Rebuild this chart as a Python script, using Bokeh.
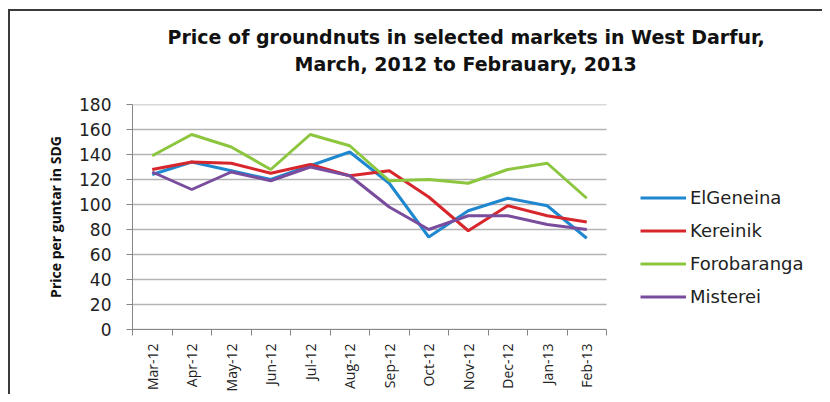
import numpy as np
from bokeh.plotting import figure
from bokeh.models import Range1d, FixedTicker, Title, Legend, LegendItem
from bokeh.embed import file_html
from bokeh.resources import INLINE

months = ["Mar-12", "Apr-12", "May-12", "Jun-12", "Jul-12", "Aug-12",
          "Sep-12", "Oct-12", "Nov-12", "Dec-12", "Jan-13", "Feb-13"]
elgeneina = [124, 134, 127, 120, 131, 142, 117, 74, 95, 105, 99, 73]
kereinik = [128, 134, 133, 125, 132, 123, 127, 106, 79, 99, 91, 86]
forobaranga = [139, 156, 146, 128, 156, 147, 119, 120, 117, 128, 133, 105]
misterei = [126, 112, 126, 119, 130, 123, 98, 80, 91, 91, 84, 80]
y_ticks = [0, 20, 40, 60, 80, 100, 120, 140, 160, 180]
title_lines = ["Price of groundnuts in selected markets in West Darfur,",
               "March, 2012 to Febrauary, 2013"]

series = [("ElGeneina", elgeneina, "#1f87cf"),
          ("Kereinik", kereinik, "#d7262c"),
          ("Forobaranga", forobaranga, "#8cc63f"),
          ("Misterei", misterei, "#7a4c9e")]

FONT = "DejaVu Sans"
W, H = 822, 394
L, T, FW, FH = 132, 104, 474, 225   # plot area of the 12 categories
R = 816                              # frame extended right to hold the legend
n = len(months)
ymax = max(y_ticks)
x_end = n * (R - L) / FW

p = figure(width=W, height=H, output_backend="svg", toolbar_location=None,
           x_range=Range1d(0, x_end), y_range=Range1d(0, ymax),
           min_border_left=L, min_border_right=W - R,
           min_border_top=T, min_border_bottom=H - T - FH)
p.outline_line_color = None
p.background_fill_color = None
p.border_fill_color = None
p.styles = {"box-shadow": "inset 8px 9px 0 0 white, inset 10px 11px 0 0 #3a3a3a"}

# horizontal gridlines limited to the category span
p.xgrid.grid_line_color = None
p.ygrid.grid_line_color = None
p.segment(x0=[0] * len(y_ticks), x1=[n] * len(y_ticks), y0=y_ticks, y1=y_ticks,
          line_color="#b4b4b4", line_width=1.5)

x = np.arange(n) + 0.5
renderers = []
for name, vals, col in series:
    r = p.line(x, vals, line_color=col, line_width=3)
    renderers.append((name, r))

# axes
p.yaxis.ticker = FixedTicker(ticks=y_ticks)
p.yaxis.major_tick_out = 6
p.yaxis.major_tick_in = 0
p.yaxis.minor_tick_line_color = None
p.yaxis.axis_line_color = "#868686"
p.yaxis.major_tick_line_color = "#868686"
p.yaxis.major_label_text_font = FONT
p.yaxis.major_label_text_font_size = "17px"
p.yaxis.major_label_text_color = "#222222"
p.yaxis.major_label_standoff = 15
p.yaxis.axis_label = "Price per guntar in SDG"
p.yaxis.axis_label_text_font = "Open Sans"
p.yaxis.axis_label_text_font_style = "bold"
p.yaxis.axis_label_text_font_size = "14px"
p.yaxis.axis_label_text_color = "#111111"
p.yaxis.axis_label_standoff = 11

p.xaxis.bounds = (0, n)
p.xaxis.ticker = FixedTicker(ticks=list(x), minor_ticks=list(range(n + 1)))
p.xaxis.major_label_overrides = {float(v): m for v, m in zip(x, months)}
p.xaxis.major_tick_line_color = None
p.xaxis.minor_tick_line_color = "#868686"
p.xaxis.minor_tick_out = 6
p.xaxis.minor_tick_in = 0
p.xaxis.axis_line_color = "#868686"
p.xaxis.major_label_orientation = np.pi / 2
p.xaxis.major_label_text_font = "Open Sans"
p.xaxis.major_label_text_font_size = "14px"
p.xaxis.major_label_text_color = "#222222"
p.xaxis.major_label_standoff = 8

# title: a blank spacer nearest the plot area, then line 2, then line 1
p.add_layout(Title(text=" ", standoff=17, text_font=FONT,
                   text_font_size="10px"), "above")
for txt, so, off in [(title_lines[1], 0, 162), (title_lines[0], 6, 35)]:
    p.add_layout(Title(text=txt, align="left", offset=off, standoff=so,
                       text_font=FONT, text_font_style="bold",
                       text_font_size="19px", text_color="#111111"), "above")

legend = Legend(items=[LegendItem(label=nm, renderers=[r]) for nm, r in renderers],
                location=(508, 22), orientation="vertical")
legend.padding = 0
legend.margin = 0
legend.border_line_color = None
legend.background_fill_alpha = 0
legend.glyph_width = 46
legend.glyph_height = 21
legend.label_height = 21
legend.spacing = 12
legend.label_standoff = 4
legend.label_text_font = FONT
legend.label_text_font_size = "18px"
legend.label_text_color = "#222222"
p.add_layout(legend, "center")

open("out.html", "w").write(file_html(p, INLINE))
